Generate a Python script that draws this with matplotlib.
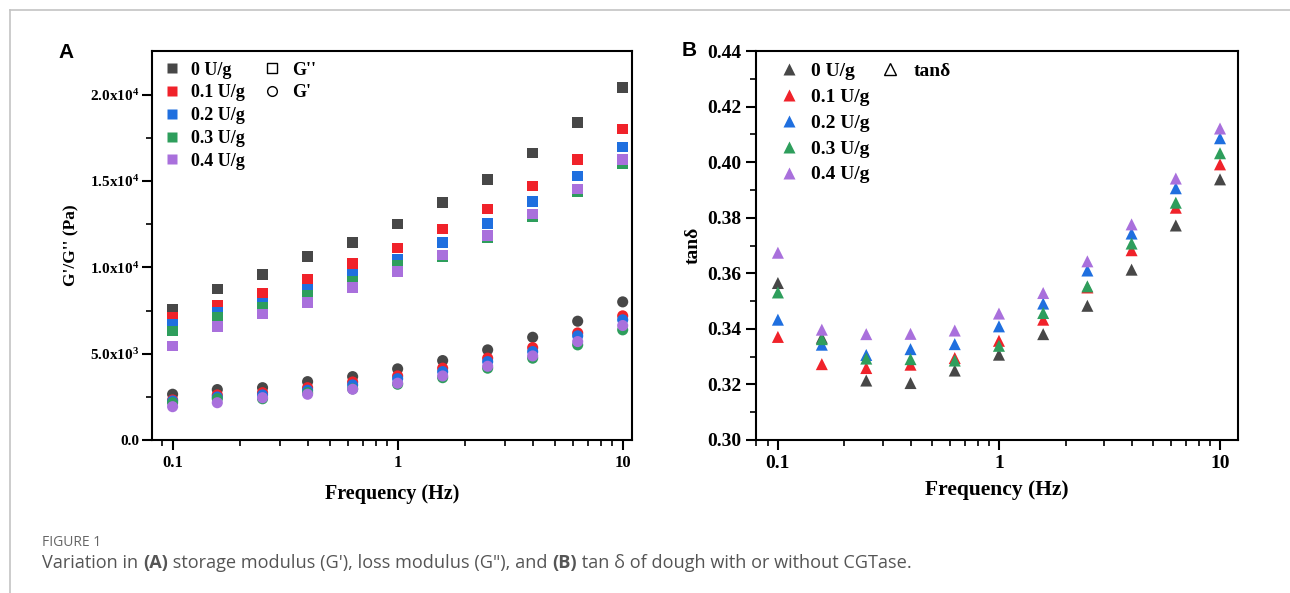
import matplotlib
matplotlib.use("Agg")
import matplotlib.pyplot as plt
from matplotlib.lines import Line2D
from matplotlib.ticker import FixedLocator, LogLocator, NullFormatter

# ===== data =====
freq = [0.1, 0.158, 0.251, 0.398, 0.631, 1.0, 1.585, 2.512, 3.981, 6.31, 10.0]
doses = ["0 U/g", "0.1 U/g", "0.2 U/g", "0.3 U/g", "0.4 U/g"]
colors = ["#474747", "#f0222a", "#1f6fdf", "#2e9e5c", "#a970dc"]

# G'' (loss modulus, Pa)
gpp_0 = [7580, 8740, 9580, 10630, 11440, 12500, 13760, 15090, 16620, 18380, 20410]
gpp_1 = [7090, 7830, 8520, 9330, 10230, 11130, 12210, 13370, 14710, 16230, 18010]
gpp_2 = [6710, 7420, 7930, 8710, 9570, 10460, 11440, 12540, 13810, 15290, 16970]
gpp_3 = [6320, 7090, 7670, 8390, 9220, 10090, 10640, 11740, 12930, 14380, 16000]
gpp_4 = [5450, 6590, 7300, 7960, 8830, 9760, 10720, 11840, 13080, 14530, 16230]

# G' (storage modulus, Pa)
gp_0 = [2650, 2920, 3030, 3380, 3670, 4120, 4600, 5220, 5950, 6880, 8000]
gp_1 = [2320, 2610, 2740, 3030, 3360, 3710, 4160, 4740, 5350, 6200, 7190]
gp_2 = [2260, 2490, 2610, 2880, 3190, 3550, 3960, 4540, 5120, 6030, 6960]
gp_3 = [2160, 2390, 2390, 2740, 2960, 3230, 3610, 4160, 4740, 5510, 6380]
gp_4 = [1930, 2160, 2450, 2650, 2940, 3290, 3710, 4270, 4870, 5700, 6630]

# tan delta
tan_0 = [0.3565, 0.3368, 0.3214, 0.3205, 0.3250, 0.3307, 0.3381, 0.3483, 0.3613, 0.3772, 0.3938]
tan_1 = [0.3371, 0.3273, 0.3259, 0.3271, 0.3295, 0.3357, 0.3433, 0.3549, 0.3683, 0.3836, 0.3992]
tan_2 = [0.3433, 0.3343, 0.3306, 0.3327, 0.3345, 0.3409, 0.3491, 0.3610, 0.3743, 0.3906, 0.4086]
tan_3 = [0.3531, 0.3363, 0.3293, 0.3291, 0.3286, 0.3339, 0.3457, 0.3553, 0.3707, 0.3854, 0.4032]
tan_4 = [0.3674, 0.3397, 0.3381, 0.3382, 0.3394, 0.3455, 0.3529, 0.3643, 0.3776, 0.3941, 0.4121]

a_yticks = [0, 5000, 10000, 15000, 20000]
a_ylabels = ["0.0", "5.0x10$^3$", "1.0x10$^4$", "1.5x10$^4$", "2.0x10$^4$"]
b_yticks = [0.30, 0.32, 0.34, 0.36, 0.38, 0.40, 0.42, 0.44]
x_ticks = [0.1, 1, 10]
x_labels = ["0.1", "1", "10"]

gpp_all = [gpp_0, gpp_1, gpp_2, gpp_3, gpp_4]
gp_all = [gp_0, gp_1, gp_2, gp_3, gp_4]
tan_all = [tan_0, tan_1, tan_2, tan_3, tan_4]

# ===== style =====
SERIF = "Liberation Serif"
plt.rcParams["font.family"] = [SERIF, "DejaVu Serif"]
plt.rcParams["font.weight"] = "bold"
plt.rcParams["mathtext.fontset"] = "custom"
plt.rcParams["mathtext.rm"] = "Liberation Serif:bold"
plt.rcParams["mathtext.it"] = "Liberation Serif:bold"
plt.rcParams["mathtext.default"] = "rm"

fig = plt.figure(figsize=(12.9, 5.93), dpi=100)

# card frame (top and left grey rule)
fig.add_artist(Line2D([10 / 1290, 1], [1 - 10 / 593, 1 - 10 / 593], color="#c4c4c4", lw=1.2))
fig.add_artist(Line2D([10 / 1290, 10 / 1290], [0, 1 - 10 / 593], color="#c4c4c4", lw=1.2))

axA = fig.add_axes([152 / 1290, 1 - 440 / 593, 480 / 1290, 389 / 593])
axB = fig.add_axes([756 / 1290, 1 - 440 / 593, 482 / 1290, 389 / 593])


def style_axis(ax, tick_size, pad):
    for s in ax.spines.values():
        s.set_linewidth(1.5)
    ax.set_xscale("log")
    ax.xaxis.set_major_locator(FixedLocator(x_ticks))
    ax.set_xticklabels(x_labels)
    ax.xaxis.set_minor_locator(LogLocator(base=10, subs=range(2, 10)))
    ax.xaxis.set_minor_formatter(NullFormatter())
    ax.tick_params(which="major", direction="out", length=7, width=1.5,
                   labelsize=tick_size, top=False, right=False)
    ax.tick_params(axis="y", which="major", pad=pad)
    ax.tick_params(which="minor", direction="out", length=4, width=1.2,
                   top=False, right=False)
    for lab in ax.get_xticklabels() + ax.get_yticklabels():
        lab.set_fontweight("bold")


# ===== panel A =====
for vals, c in zip(gpp_all, colors):
    axA.scatter(freq, vals, marker="s", s=58, color=c, edgecolors="none", zorder=3)
for vals, c in zip(gp_all, colors):
    axA.scatter(freq, vals, marker="o", s=64, color=c, edgecolors="none", zorder=3)

axA.set_xlim(0.081, 11.0)
axA.set_ylim(0, 22530)
axA.yaxis.set_major_locator(FixedLocator(a_yticks))
axA.set_yticklabels(a_ylabels)
axA.yaxis.set_minor_locator(FixedLocator([2500, 7500, 12500, 17500]))
style_axis(axA, 12, 2)
axA.tick_params(axis="y", labelsize=11)
axA.set_xlabel("Frequency (Hz)", fontsize=14.5, fontweight="bold", labelpad=10)
axA.set_ylabel("G'/G'' (Pa)", fontsize=12.5, fontweight="bold", labelpad=8)

h_dose = [Line2D([], [], ls="none", marker="s", ms=7, color=c, mec="none") for c in colors]
legA1 = axA.legend(h_dose, doses, loc="upper left", bbox_to_anchor=(-0.012, 1.01),
                   frameon=False, fontsize=13, handletextpad=0.5, labelspacing=0.32,
                   handlelength=1.2, borderpad=0.3)
axA.add_artist(legA1)
h_mod = [Line2D([], [], ls="none", marker="s", ms=7, mfc="white", mec="black", mew=1),
         Line2D([], [], ls="none", marker="o", ms=7, mfc="white", mec="black", mew=1)]
axA.legend(h_mod, ["G''", "G'"], loc="upper left", bbox_to_anchor=(0.197, 1.01),
           frameon=False, fontsize=13, handletextpad=0.5, labelspacing=0.32,
           handlelength=1.2, borderpad=0.3)

# ===== panel B =====
for vals, c in zip(tan_all, colors):
    axB.scatter(freq, vals, marker="^", s=75, color=c, edgecolors="none", zorder=3)

axB.set_xlim(0.0796, 12.06)
axB.set_ylim(0.30, 0.44)
axB.yaxis.set_major_locator(FixedLocator(b_yticks))
axB.set_yticklabels([f"{v:.2f}" for v in b_yticks])
axB.yaxis.set_minor_locator(FixedLocator([0.31, 0.33, 0.35, 0.37, 0.39, 0.41, 0.43]))
style_axis(axB, 14, 3.5)
axB.set_xlabel("Frequency (Hz)", fontsize=15.5, fontweight="bold", labelpad=6)
axB.set_ylabel("tanδ", fontsize=14, fontweight="bold", labelpad=4)

h_tri = [Line2D([], [], ls="none", marker="^", ms=8.5, color=c, mec="none") for c in colors]
legB1 = axB.legend(h_tri, doses, loc="upper left", bbox_to_anchor=(0.012, 1.01),
                   frameon=False, fontsize=14, handletextpad=0.55, labelspacing=0.42,
                   handlelength=1.2, borderpad=0.3)
axB.add_artist(legB1)
axB.legend([Line2D([], [], ls="none", marker="^", ms=8.5, mfc="white", mec="black", mew=1)],
           ["tanδ"], loc="upper left", bbox_to_anchor=(0.222, 1.01),
           frameon=False, fontsize=14, handletextpad=0.6, handlelength=1.2, borderpad=0.3)

# panel letters
fig.text(58 / 1290, 1 - 52 / 593, "A", fontsize=15, fontweight="bold",
         family="Liberation Sans", va="center")
fig.text(682 / 1290, 1 - 51 / 593, "B", fontsize=15, fontweight="bold",
         family="Liberation Sans", va="center")

# ===== caption =====
fig.text(42 / 1290, 1 - 542 / 593, "FIGURE 1", fontsize=10, color="#666666",
         family="Open Sans", fontweight="normal", va="center")

renderer = fig.canvas.get_renderer()
pieces = [("Variation in ", "normal"), ("(A)", "bold"),
          (" storage modulus (G'), loss modulus (G\"), and ", "normal"),
          ("(B)", "bold"), (" tan δ of dough with or without CGTase.", "normal")]
x = 42
for txt, w in pieces:
    t = fig.text(x / 1290, 1 - 563 / 593, txt, fontsize=13.1, color="#555555",
                 family="Open Sans", fontweight=w, va="center")
    bb = t.get_window_extent(renderer=renderer)
    x += bb.width

fig.savefig("out.png", dpi=100)
